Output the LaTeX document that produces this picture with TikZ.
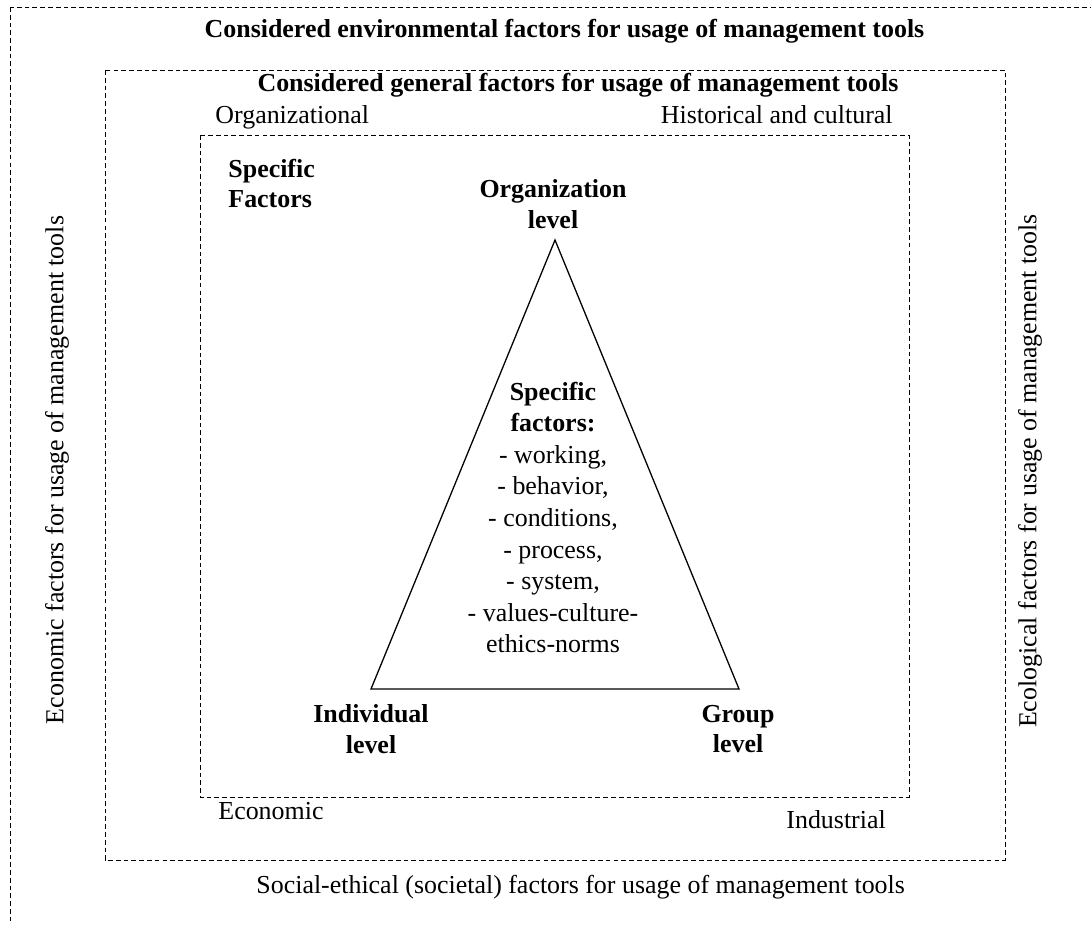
\documentclass[tikz,border=0pt]{standalone}
\usepackage{fontspec}
\setmainfont{Liberation Serif}
\usetikzlibrary{positioning}

\begin{document}
\begin{tikzpicture}[
    x = 0.463pt, y = 0.463pt,
    factorbox/.style = {draw, line width = 0.45pt, dash pattern = on 2.2pt off 1.4pt},
    lbl/.style = {inner sep = 0pt, font = \fontsize{12}{14.2}\selectfont, align = center},
    boldlbl/.style = {lbl, font = \fontsize{12}{14.2}\selectfont\bfseries}]

\clip (0,0) rectangle (1091,-924);
\draw[factorbox] (10,-7) rectangle (1110,-950);
\draw[factorbox] (105,-70) rectangle (1005,-860);
\draw[factorbox] (200,-135) rectangle (909,-797);

% triangle of levels
\coordinate (top) at (555,-240);
\coordinate (left) at (371,-689);
\coordinate (right) at (739,-689);
\draw[line width = 0.6pt] (top) -- (right) -- (left) -- cycle;

\path (564.5,-38) node[boldlbl, anchor = base](env) {Considered environmental factors for usage of management tools}
      (578,-92) node[boldlbl, anchor = base](gen) {Considered general factors for usage of management tools}
      (215,-123) node[lbl, anchor = base west](org) {Organizational}
      (893,-123) node[lbl, anchor = base east](hist) {Historical and cultural}
      (218,-819) node[lbl, anchor = base west](eco) {Economic}
      (786,-828) node[lbl, anchor = base west](ind) {Industrial}
      (256,-893) node[lbl, anchor = base west](soc) {Social-ethical (societal) factors for usage of management tools}
      (57,-470) node[lbl, rotate = 90](econ) {Economic factors for usage of management tools}
      (1030,-471) node[lbl, rotate = 90](ecol) {Ecological factors for usage of management tools}
      (228,-183.5) node[boldlbl, anchor = west, align = left](spec) {Specific\\Factors}
      (553,-204) node[boldlbl](orglev) {Organization\\level}
      (371,-729) node[boldlbl](indlev) {Individual\\level}
      (738,-729) node[boldlbl](grplev) {Group\\level}
      (553,-517.5) node[lbl, font = \fontsize{12}{14.64}\selectfont](list) {\textbf{Specific}\\\textbf{factors:}\\- working,\\- behavior,\\- conditions,\\- process,\\- system,\\- values-culture-\\ethics-norms};
\end{tikzpicture}
\end{document}
